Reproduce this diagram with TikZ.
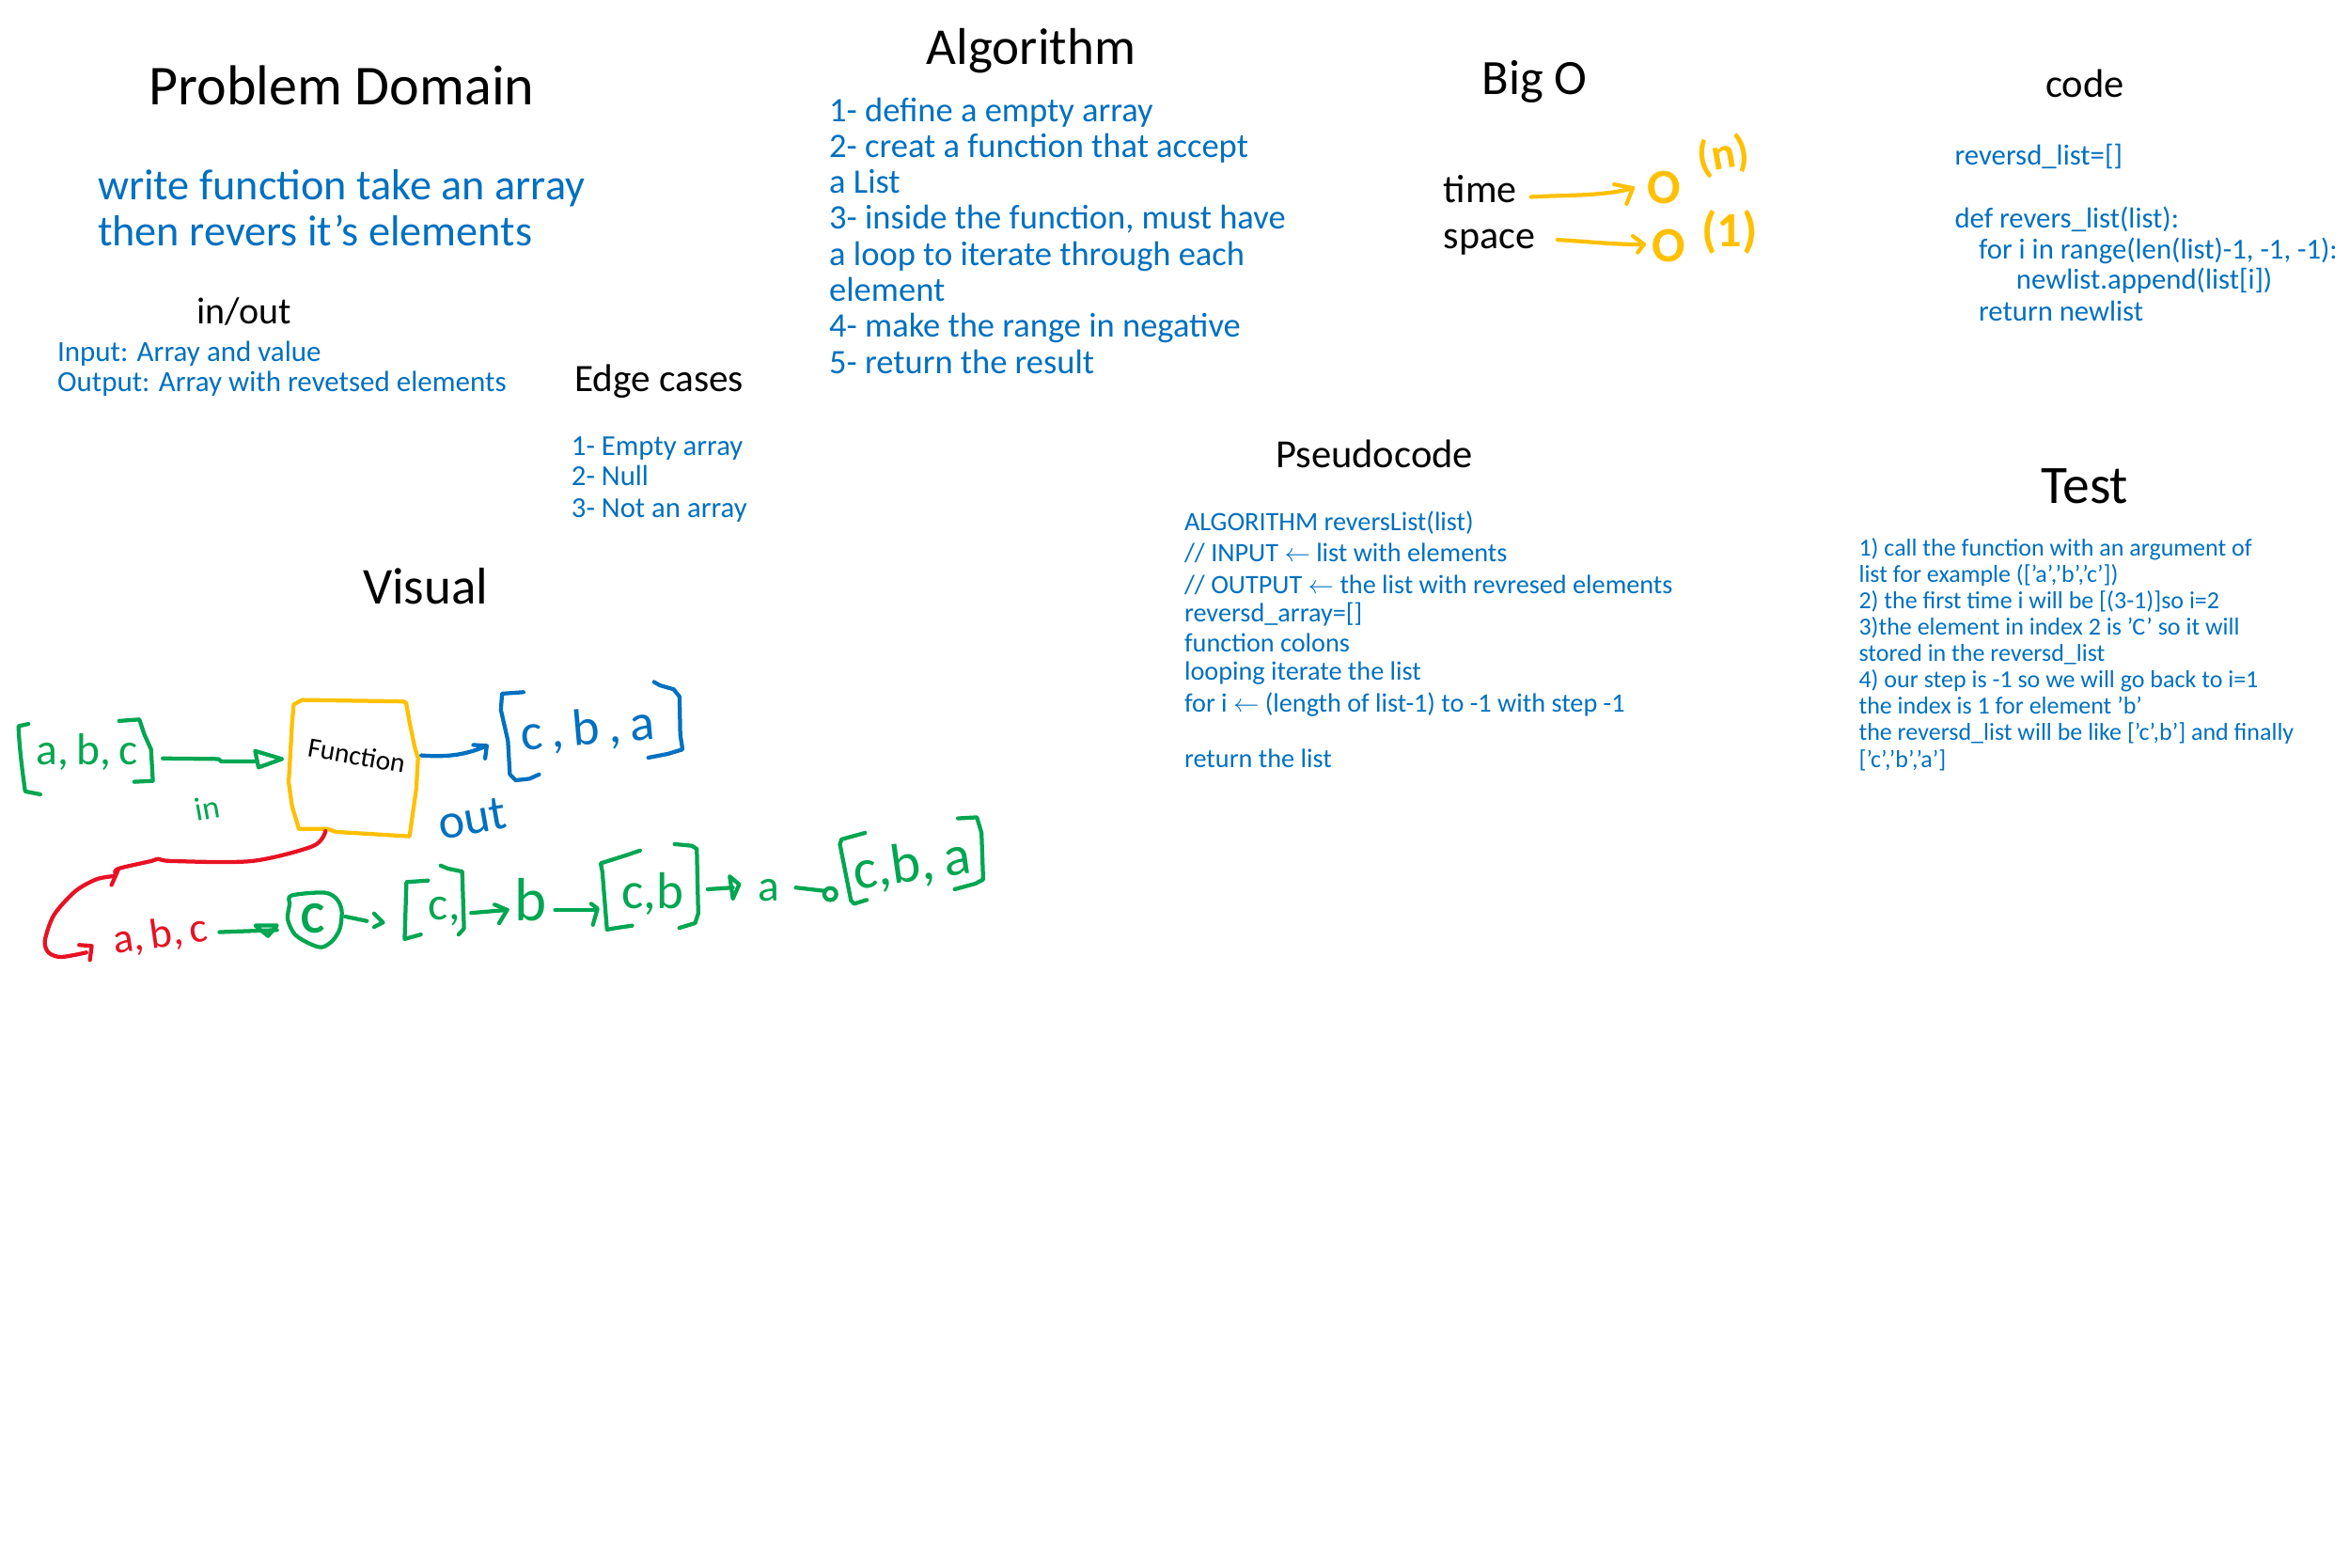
\documentclass[tikz,border=0pt]{standalone}
\usepackage{fontspec}
\setmainfont{Carlito}
\definecolor{inkblue}{RGB}{0,112,192}
\definecolor{inkgreen}{RGB}{0,166,81}
\definecolor{inkyellow}{RGB}{255,192,0}
\definecolor{inkred}{RGB}{232,17,35}
\newcommand\fs[1]{\fontsize{#1}{#1}\selectfont}
\begin{document}
\begin{tikzpicture}[x=0.6378pt,y=-0.6378pt,
  txt/.style={inner sep=0pt, anchor=base west},
  ttl/.style={inner sep=0pt, anchor=base, text=black},
  btxt/.style={txt, text=inkblue},
  ink/.style={line width=1.7pt, line cap=round, line join=round},
  hand/.style={inner sep=0pt}]
\fill[white] (0,0) rectangle (1568,1046);
\useasboundingbox (0,0) rectangle (1568,1046);

% ---------- Problem domain ----------
\node[ttl,font=\fs{24}] (tpd) at (228,70) {Problem Domain};
\node[btxt,font=\fs{18.5}] (pd1) at (65,133) {write function take an array};
\node[btxt,font=\fs{18.5}] (pd2) at (65,164) {then revers it's elements};
\node[ttl,font=\fs{16}] (tio) at (163,216) {in/out};
\node[btxt,font=\fs{12.4}] (io1) at (38,241) {Input: Array and value};
\node[btxt,font=\fs{12.4}] (io2) at (38,261) {Output: Array with revetsed elements};
\node[txt,font=\fs{16.5}] (tec) at (383,261) {Edge cases};
\node[btxt,font=\fs{12.3}] (ec1) at (381,304) {1- Empty array};
\node[btxt,font=\fs{12.3}] (ec2) at (381,324) {2- Null};
\node[btxt,font=\fs{12.3}] (ec3) at (381,345) {3- Not an array};

% ---------- Algorithm ----------
\node[ttl,font=\fs{22}] (talg) at (688,43) {Algorithm};
\foreach \t [count=\i] in {{1- define a empty array},{2- creat a function that accept},{a List},{3- inside the function, must have},{a loop to iterate through each},{element},{4- make the range in negative},{5- return the result}}
  {\node[btxt,font=\fs{14.6}] (alg\i) at (553,{81+24*(\i-1)}) {\t};}

% ---------- Big O ----------
\node[ttl,font=\fs{21}] (tbig) at (1024,63) {Big O};
\node[txt,font=\fs{16.8}] (ttime) at (963,135) {time};
\node[txt,font=\fs{16.8}] (tspace) at (963,166) {space};
\node[hand,text=inkyellow,font=\bfseries\fs{21}] (on) at (1110.5,125) {O};
\node[hand,text=inkyellow,font=\bfseries\fs{19},rotate=10] (nn) at (1150,104) {(n)};
\node[hand,text=inkyellow,font=\bfseries\fs{21}] (o1) at (1113.5,164) {O};
\node[hand,text=inkyellow,font=\bfseries\fs{21}] (one) at (1154,155) {(1)};
\coordinate (ta) at (1021.5,131.4);
\coordinate (tb) at (1089.5,125.5);
\draw[ink,inkyellow] (ta) .. controls (1045,130) and (1070,131) .. (tb);
\draw[ink,inkyellow] (1077,123) -- (tb) -- (1085.3,136);
\coordinate (sa) at (1039.3,160);
\coordinate (sb) at (1096.9,163);
\draw[ink,inkyellow] (sa) .. controls (1058,161) and (1080,163.5) .. (sb);
\draw[ink,inkyellow] (1089.5,157.5) -- (sb) -- (1092.7,168.4);

% ---------- code ----------
\node[ttl,font=\fs{17}] (tcode) at (1391,65) {code};
\node[btxt,font=\fs{12.3}] (c1) at (1304,110) {reversd\_list=[]};
\node[btxt,font=\fs{12.3}] (c2) at (1304,152) {def revers\_list(list):};
\node[btxt,font=\fs{12.3}] (c3) at (1320,173) {for i in range(len(list)-1, -1, -1):};
\node[btxt,font=\fs{12.3}] (c4) at (1345,193) {newlist.append(list[i])};
\node[btxt,font=\fs{12.3}] (c5) at (1320,214) {return newlist};

% ---------- Pseudocode ----------
\node[ttl,font=\fs{17}] (tps) at (917,312) {Pseudocode};
\node[btxt,font=\fs{11.3}] (p1) at (790,354) {ALGORITHM reversList(list)};
\node[btxt,font=\fs{11.3}] (p2) at (790,375) {// INPUT $\leftarrow$ list with elements};
\node[btxt,font=\fs{11.3}] (p3) at (790,396) {// OUTPUT $\leftarrow$ the list with revresed elements};
\node[btxt,font=\fs{11.3}] (p4) at (790,415) {reversd\_array=[]};
\node[btxt,font=\fs{11.3}] (p5) at (790,435) {function colons};
\node[btxt,font=\fs{11.3}] (p6) at (790,454) {looping iterate the list};
\node[btxt,font=\fs{11.3}] (p7) at (790,475) {for i $\leftarrow$ (length of list-1) to -1 with step -1};
\node[btxt,font=\fs{11.3}] (p8) at (790,512) {return the list};

% ---------- Test ----------
\node[ttl,font=\fs{23}] (ttest) at (1391,336) {Test};
\foreach \t [count=\i] in {{1) call the function with an argument of},{list for example (['a','b','c'])},{2) the first time i will be [(3-1)]so i=2},{3)the element in index 2 is 'C' so it will},{stored in the reversd\_list},{4) our step is -1 so we will go back to i=1},{the index is 1 for element 'b'},{the reversd\_list will be like ['c',b'] and finally},{['c','b','a']}}
  {\node[btxt,font=\fs{10.4}] (tst\i) at (1240,{371+17.6*(\i-1)}) {\t};}

% ---------- Visual ----------
\node[ttl,font=\fs{22}] (tvis) at (284,403) {Visual};

% input array [a,b,c]
\draw[ink,inkgreen] (19,483) -- (12.3,484.5) .. controls (13,500) and (15,515) .. (16.8,528) -- (26.9,530);
\draw[ink,inkgreen] (79.5,481) -- (93,480) -- (96.3,490) -- (100.8,500) -- (102,521) -- (89.6,521.6);
\node[hand,anchor=base,text=inkgreen,font=\fs{19}] (abc) at (58,510) {a,\,b,\,c};
\coordinate (inA) at (108.6,506);
\coordinate (inB) at (170.2,508);
\draw[ink,inkgreen] (inA) -- (145.6,506.4) -- (147.8,508) -- (inB);
\draw[ink,inkgreen] (170.2,501) -- (188.2,506.4) -- (172.5,512) -- cycle;
\node[hand,text=inkgreen,font=\fs{14},rotate=10] (lin) at (138,539) {in};

% function box
\draw[ink,inkyellow] (196,470) -- (201.6,467) -- (268.8,468) -- (271,469) -- (273.3,482) -- (276.6,498) -- (278.9,506) -- (277.8,526) -- (275.5,542) -- (273.3,558) -- (224,555) -- (218.4,553) -- (199.4,553) -- (194.9,538) -- (192.6,522) -- (193.8,502) -- (194.9,482) -- cycle;
\node[hand,font=\fs{11.8},rotate=-10] (fn) at (238,504) {Function};

% output
\coordinate (outA) at (281.1,504);
\coordinate (outB) at (323.7,498);
\draw[ink,inkblue] (outA) .. controls (300,505.5) and (312,503) .. (outB);
\draw[ink,inkblue] (315.8,497) -- (324.8,497.6) -- (323.7,506);
\draw[ink,inkblue] (349.3,461.8) -- (335,462.8) -- (334.2,473.6) -- (338.9,494.2) -- (340.2,516.7) -- (344.1,520.6) -- (353.2,519.6) -- (359.7,516.7);
\draw[ink,inkblue] (436.4,455) -- (440.4,457.3) -- (449.5,459.9) -- (453.4,464.8) -- (453.9,490.2) -- (455.4,500) -- (445.6,503) -- (432.6,505.5);
\node[hand,anchor=base,text=inkblue,font=\fs{22},rotate=5] (cba) at (393,497) {c\,,\,b\,,\,a};
\node[hand,text=inkblue,font=\fs{21},rotate=10] (lout) at (315,546) {out};

% red loop
\draw[ink,inkred] plot[smooth] coordinates {(217.2,554.5) (208.8,564.5) (168,574.5) (115.2,574.5) (105.6,573.1) (100.8,574.5) (79.2,579.5) (76.8,582.5)};
\draw[ink,inkred] (79,580) -- (74.4,590.5);
\draw[ink,inkred] plot[smooth] coordinates {(76.8,584.5) (64.8,586.5) (50.4,594.5) (36,610.5) (30,627.5) (32.4,635.5) (40.8,638.5) (57.6,635.5)};
\draw[ink,inkred] (52.8,630.5) -- (61.2,631.1) -- (60,640.5);
\node[hand,text=inkred,font=\fs{18},rotate=8] (rabc) at (107,624) {a,\,b,\,c};

% step chain
\coordinate (s1a) at (146.4,621.9);
\coordinate (s1b) at (184.8,620.5);
\draw[ink,inkgreen] (s1a) -- (s1b);
\draw[ink,inkgreen] (170.4,617.5) -- (184.8,617.5) -- (178.8,624.5) -- cycle;
\draw[ink,inkgreen] plot[smooth cycle] coordinates {(194.4,597.5) (216,595.5) (224.4,599.5) (228,607.5) (226.8,619.5) (222,627.5) (214.8,632) (206.4,629.5) (196.8,623.5) (192,613.5) (193.2,603.5)};
\node[hand,text=inkgreen,font=\bfseries\fs{19}] (cc) at (209,613) {C};
\draw[ink,inkgreen] (230.4,611.5) -- (244.8,614.5);
\draw[ink,inkgreen] (249.6,609.5) -- (255.6,615.5) -- (249.6,618.5);
\draw[ink,inkgreen] (285.6,587.5) -- (271.2,588.5) -- (270,626.5) -- (280.8,623.5);
\draw[ink,inkgreen] (294,577.5) -- (298.8,579.5) -- (308.4,581.5) -- (309.6,619.5) -- (306,623.5);
\node[hand,anchor=base west,text=inkgreen,font=\fs{20}] (c1s) at (285.6,614) {c,};
\draw[ink,inkgreen] (314.4,609.1) -- (338.4,607.1);
\draw[ink,inkgreen] (330,603.5) -- (338.4,607.1) -- (333,616);
\node[hand,anchor=base,text=inkgreen,font=\fs{26}] (bs) at (354,614.5) {b};
\draw[ink,inkgreen] (370.4,607.3) -- (397.7,607.3);
\draw[ink,inkgreen] (394.5,603) -- (398.7,606.2) -- (395.6,617);
\draw[ink,inkgreen] (427,567.5) -- (417.6,570.7) -- (400.8,576) -- (401.9,581.5) -- (405,620.2) -- (411.3,619.1) -- (421.8,617.6);
\draw[ink,inkgreen] (450.2,563.2) -- (461.7,564.3) -- (464.9,566.4) -- (465.9,609.4) -- (463.8,615.9) -- (453.3,619.1);
\node[hand,anchor=base west,text=inkgreen,font=\fs{22}] (cbs) at (414.5,606) {c,b};
\draw[ink,inkgreen] (472.2,593.3) -- (489,592.2);
\draw[ink,inkgreen] (486.9,584.7) -- (493.2,590) -- (489,599.7) -- cycle;
\node[hand,anchor=base west,text=inkgreen,font=\fs{19}] (as) at (505.8,601) {a};
\draw[ink,inkgreen] (531,592.2) -- (550,594.4);
\draw[ink,inkgreen] (554,596.5) circle (4);
\draw[ink,inkgreen] (577.2,555.7) -- (570.9,557.4) -- (561.5,560) -- (560.4,563.2) -- (567.8,600.8) -- (569.9,603) -- (578.3,600.4);
\draw[ink,inkgreen] (639.2,546) -- (651.8,545.3) -- (654.9,555.7) -- (656,586.8) -- (650.7,589.6) -- (637,593.3);
\node[hand,anchor=base,text=inkgreen,font=\fs{24},rotate=8] (cbas) at (610,588) {c,b,\,a};
\end{tikzpicture}
\end{document}
